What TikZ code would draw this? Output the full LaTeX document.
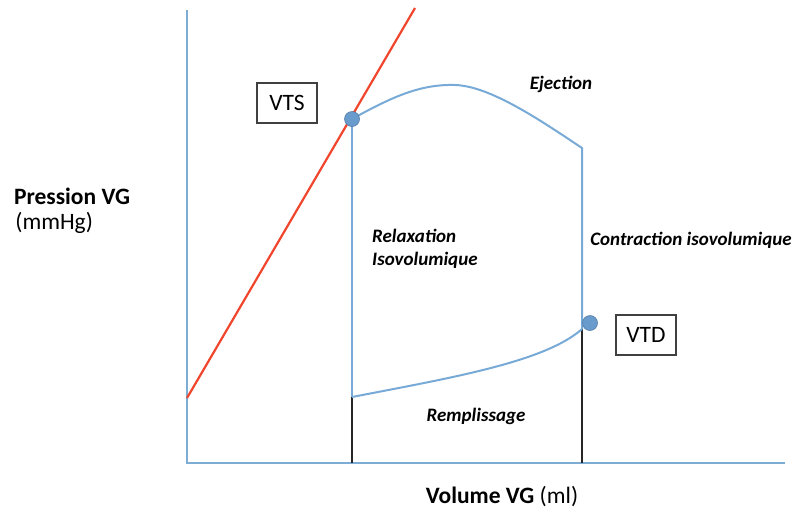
\documentclass[tikz,border=0pt]{standalone}
\usepackage{fontspec}
\setmainfont{Carlito}
\usetikzlibrary{positioning}

\definecolor{axisblue}{RGB}{125,172,212}
\definecolor{loopblue}{RGB}{120,170,215}
\definecolor{elastred}{RGB}{240,70,45}
\definecolor{dotblue}{RGB}{105,155,205}

\tikzset{
  axis/.style={axisblue, line width=2.6pt},
  loopline/.style={loopblue, line width=2pt},
  volline/.style={black!85, line width=2.2pt},
  phase/.style={font=\fontsize{19}{23}\selectfont\bfseries\itshape, align=left, inner sep=0pt},
  axlabel/.style={font=\fontsize{23.5}{27}\selectfont, inner sep=0pt},
  volbox/.style={draw=black!75, line width=1.1pt, minimum width=60pt, minimum height=40pt, font=\fontsize{23.5}{27}\selectfont},
  dot/.style={circle, fill=dotblue, draw=dotblue!80!black, line width=.6pt, inner sep=0pt, minimum size=15pt}
}

\begin{document}
\begin{tikzpicture}[x=1pt,y=-1pt]

\useasboundingbox (0,0) rectangle (792,515);

\coordinate(o) at (187,463);

\coordinate(ytop) at (187,10);

\coordinate(xend) at (785,463);

\coordinate(rlow) at (187,398);

\coordinate(rhigh) at (415,8);

\coordinate(vts) at (352,119);

\coordinate(peak) at (455,85);

\coordinate(ejend) at (582,148);

\coordinate(vtd) at (582,329);

\coordinate(fill0) at (352,397);

\coordinate(vlow) at (352,463);

\coordinate(vhigh) at (582,463);

% axes
\draw[axis] (ytop) -- (o) -- (xend);

% end-systolic line
\draw[elastred, line width=2.2pt] (rlow) -- (rhigh);

% volume marks
\draw[volline] (vlow) -- (fill0);

\draw[volline] (vhigh) -- (vtd);

% loop
\draw[loopline] (vts) .. controls (392,97) and (420,84) .. (peak) .. controls (490,86) and (540,120) .. (ejend) -- (vtd);

\draw[loopline] (fill0) .. controls (450,378) and (545,362) .. (vtd);

\draw[loopline] (vts) -- (fill0);

\node(vtsdot)[dot] at (vts) {};

\node(vtddot)[dot] at (590,323) {};

\node(vtsbox)[volbox] at (287,103) {VTS};

\node(vtdbox)[volbox] at (646,335) {VTD};

\node(eject)[phase] at (561,84) {Ejection};

\node(relax)[phase, anchor=west] at (372,249) {Relaxation\\Isovolumique};

\node(contr)[phase] at (691,240) {Contraction isovolumique};

\node(fill)[phase] at (476,416) {Remplissage};

\node(ylab)[axlabel, font=\fontsize{23.5}{27}\selectfont\bfseries] at (72,196) {Pression VG};

\node(yunit)[axlabel, below right = 8pt and -115pt of ylab] {(mmHg)};

\node(xlab)[axlabel] at (502,497) {\textbf{Volume VG} (ml)};

\end{tikzpicture}
\end{document}
